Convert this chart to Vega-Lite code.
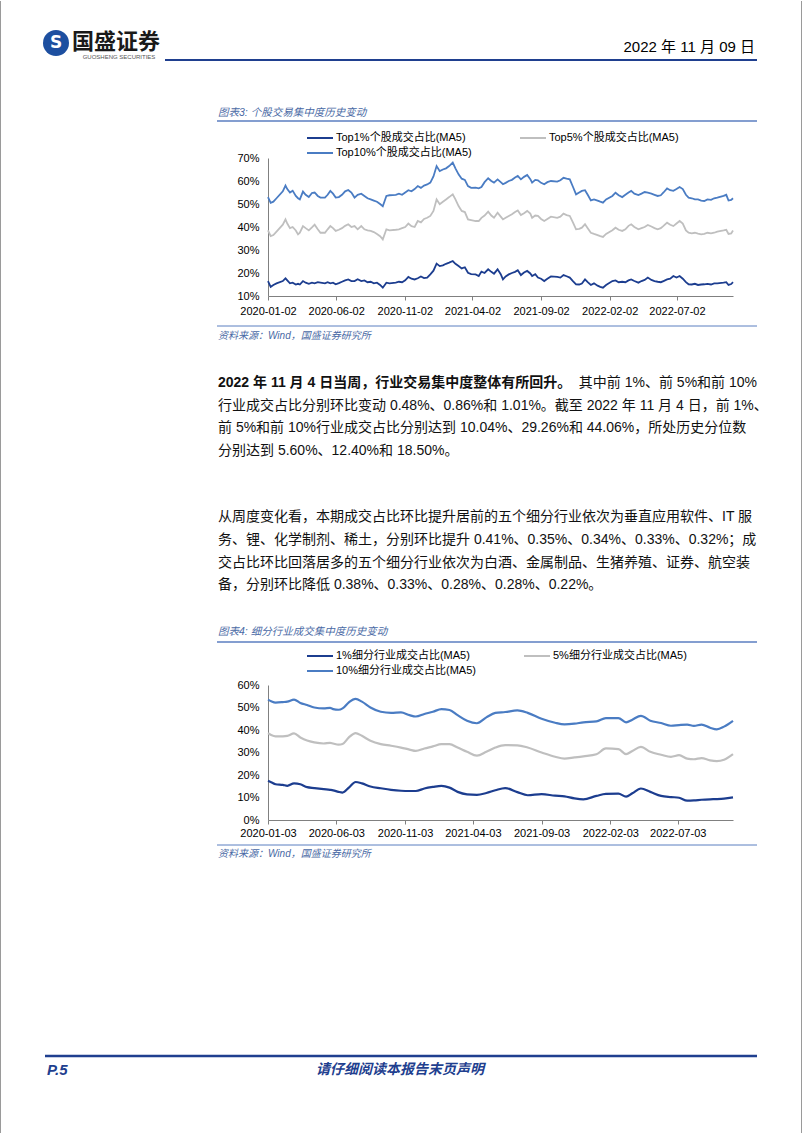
{
"$schema": "https://vega.github.io/schema/vega-lite/v6.json",
"padding": 0,
"background": "white",
"bounds": "flush",
"spacing": 389,
"resolve": {"scale": {"color": "independent"}, "legend": {"color": "independent"}},
"config": {
  "view": {"stroke": null},
  "font": "Liberation Sans, Noto Sans CJK SC",
  "text": {"font": "Liberation Sans, Noto Sans CJK SC"},
  "axis": {"labelFont": "Liberation Sans, Noto Sans CJK SC", "labelFontSize": 11, "labelColor": "#000000", "domainColor": "#808080", "tickColor": "#808080", "grid": false, "title": null},
  "legend": {"labelFont": "Liberation Sans, Noto Sans CJK SC", "labelFontSize": 11, "labelColor": "#000000"}
},
"vconcat": [
{
  "width": 465,
  "height": 138,
  "layer": [
    {"data": {"values": [{}]}, "mark": {"type": "rect", "fill": "white", "opacity": 0}, "encoding": {"x": {"value": -268}, "x2": {"value": 534}, "y": {"value": -157}, "y2": {"value": 976}}},
    {"data": {"values": [{}]}, "mark": {"type": "rule", "stroke": "#9a9a9a", "strokeWidth": 1}, "encoding": {"x": {"value": -267.5}, "y": {"value": -157}, "y2": {"value": 976}}},
    {"data": {"values": [{}]}, "mark": {"type": "rule", "stroke": "#9a9a9a", "strokeWidth": 1}, "encoding": {"x": {"value": 533.5}, "y": {"value": -157}, "y2": {"value": 976}}},
    {"data": {"values": [{}]}, "mark": {"type": "point", "shape": "circle", "filled": true, "color": "#1d4fa0", "size": 676, "opacity": 1}, "encoding": {"x": {"value": -212}, "y": {"value": -115}}},
    {"data": {"values": [{}]}, "mark": {"type": "text", "text": "S", "color": "white", "fontWeight": "bold", "fontSize": 17, "align": "center", "baseline": "middle", "font": "DejaVu Sans"}, "encoding": {"x": {"value": -212}, "y": {"value": -115}}},
    {"data": {"values": [{}]}, "mark": {"type": "text", "text": "国盛证券", "color": "#1a1a1a", "fontWeight": "bold", "fontSize": 22, "align": "left", "baseline": "middle", "font": "Noto Sans CJK SC"}, "encoding": {"x": {"value": -196}, "y": {"value": -116}}},
    {"data": {"values": [{}]}, "mark": {"type": "text", "text": "GUOSHENG SECURITIES", "color": "#555555", "fontSize": 6, "align": "center", "baseline": "middle"}, "encoding": {"x": {"value": -149}, "y": {"value": -101}}},
    {"data": {"values": [{}]}, "mark": {"type": "text", "text": "2022 年 11 月 09 日", "color": "#000000", "fontSize": 15, "align": "right", "baseline": "middle", "font": "Liberation Sans Narrow, Liberation Sans, Noto Sans CJK SC"}, "encoding": {"x": {"value": 487}, "y": {"value": -111}}},
    {"data": {"values": [{}]}, "mark": {"type": "rule", "stroke": "#1f3f8f", "strokeWidth": 2}, "encoding": {"x": {"value": -103}, "x2": {"value": 489}, "y": {"value": -98}}},
    {"data": {"values": [{}]}, "mark": {"type": "text", "text": "图表3: 个股交易集中度历史变动", "color": "#4a6aa5", "fontSize": 10.5, "fontStyle": "italic", "align": "left", "baseline": "middle"}, "encoding": {"x": {"value": -50}, "y": {"value": -45}}},
    {"data": {"values": [{}]}, "mark": {"type": "rule", "stroke": "#5b7ec0", "strokeWidth": 1.5}, "encoding": {"x": {"value": -51}, "x2": {"value": 489}, "y": {"value": -37}}},
    {
      "data": {"values": [
        {"d":"2020-01-02","a":16.5,"b":38.5,"c":53.0},
        {"d":"2020-01-08","a":14.0,"b":36.0,"c":50.5},
        {"d":"2020-01-14","a":14.8,"b":36.5,"c":51.0},
        {"d":"2020-01-21","a":15.5,"b":38.0,"c":52.5},
        {"d":"2020-02-04","a":16.5,"b":41.0,"c":55.5},
        {"d":"2020-02-10","a":17.7,"b":43.3,"c":58.0},
        {"d":"2020-02-14","a":16.8,"b":41.5,"c":56.5},
        {"d":"2020-02-20","a":15.5,"b":39.5,"c":55.0},
        {"d":"2020-02-26","a":15.8,"b":40.0,"c":55.8},
        {"d":"2020-03-04","a":15.0,"b":38.5,"c":53.5},
        {"d":"2020-03-09","a":15.3,"b":36.8,"c":52.5},
        {"d":"2020-03-13","a":15.0,"b":37.5,"c":52.0},
        {"d":"2020-03-20","a":16.5,"b":40.4,"c":55.4},
        {"d":"2020-03-26","a":15.8,"b":39.5,"c":54.0},
        {"d":"2020-04-02","a":15.3,"b":38.5,"c":53.0},
        {"d":"2020-04-09","a":15.8,"b":39.8,"c":54.8},
        {"d":"2020-04-15","a":15.5,"b":41.0,"c":55.0},
        {"d":"2020-04-22","a":16.0,"b":39.0,"c":53.5},
        {"d":"2020-04-28","a":15.8,"b":37.5,"c":52.8},
        {"d":"2020-05-08","a":15.5,"b":37.5,"c":52.8},
        {"d":"2020-05-14","a":16.0,"b":39.0,"c":54.0},
        {"d":"2020-05-20","a":15.5,"b":40.4,"c":55.7},
        {"d":"2020-05-26","a":15.8,"b":39.5,"c":54.5},
        {"d":"2020-06-01","a":15.1,"b":38.3,"c":52.8},
        {"d":"2020-06-08","a":15.6,"b":38.8,"c":53.0},
        {"d":"2020-06-15","a":16.2,"b":39.5,"c":54.0},
        {"d":"2020-06-22","a":16.8,"b":40.5,"c":55.5},
        {"d":"2020-06-29","a":17.2,"b":41.2,"c":56.1},
        {"d":"2020-07-06","a":16.5,"b":40.0,"c":55.0},
        {"d":"2020-07-13","a":16.5,"b":40.4,"c":52.8},
        {"d":"2020-07-20","a":17.3,"b":39.0,"c":54.0},
        {"d":"2020-07-28","a":16.5,"b":40.4,"c":54.5},
        {"d":"2020-08-04","a":16.8,"b":39.0,"c":53.5},
        {"d":"2020-08-11","a":16.0,"b":38.5,"c":52.5},
        {"d":"2020-08-18","a":16.2,"b":38.3,"c":52.0},
        {"d":"2020-08-25","a":15.5,"b":37.8,"c":51.5},
        {"d":"2020-09-01","a":15.8,"b":37.0,"c":51.0},
        {"d":"2020-09-08","a":14.8,"b":36.0,"c":50.0},
        {"d":"2020-09-14","a":13.6,"b":34.6,"c":49.0},
        {"d":"2020-09-22","a":15.8,"b":39.0,"c":53.5},
        {"d":"2020-09-29","a":15.5,"b":38.5,"c":53.8},
        {"d":"2020-10-13","a":15.8,"b":38.8,"c":54.0},
        {"d":"2020-10-20","a":16.2,"b":39.0,"c":54.5},
        {"d":"2020-10-27","a":16.0,"b":39.5,"c":54.0},
        {"d":"2020-11-03","a":16.8,"b":40.0,"c":55.0},
        {"d":"2020-11-10","a":18.3,"b":41.5,"c":56.0},
        {"d":"2020-11-17","a":17.5,"b":40.4,"c":55.5},
        {"d":"2020-11-24","a":17.2,"b":40.0,"c":56.5},
        {"d":"2020-12-01","a":17.7,"b":42.6,"c":57.8},
        {"d":"2020-12-08","a":18.5,"b":42.0,"c":57.0},
        {"d":"2020-12-15","a":17.8,"b":43.5,"c":58.0},
        {"d":"2020-12-22","a":18.0,"b":44.0,"c":58.5},
        {"d":"2020-12-29","a":19.4,"b":44.8,"c":59.3},
        {"d":"2021-01-05","a":21.0,"b":47.0,"c":62.0},
        {"d":"2021-01-12","a":24.1,"b":52.0,"c":66.5},
        {"d":"2021-01-19","a":23.0,"b":49.9,"c":64.3},
        {"d":"2021-01-26","a":23.3,"b":51.0,"c":65.0},
        {"d":"2021-02-02","a":24.0,"b":52.0,"c":65.5},
        {"d":"2021-02-09","a":24.5,"b":53.0,"c":66.5},
        {"d":"2021-02-17","a":25.2,"b":54.2,"c":68.0},
        {"d":"2021-02-23","a":24.0,"b":52.0,"c":65.5},
        {"d":"2021-03-02","a":23.0,"b":49.1,"c":62.9},
        {"d":"2021-03-09","a":22.0,"b":47.0,"c":61.0},
        {"d":"2021-03-16","a":22.5,"b":46.5,"c":60.5},
        {"d":"2021-03-23","a":20.1,"b":43.3,"c":57.8},
        {"d":"2021-03-30","a":19.5,"b":43.0,"c":57.0},
        {"d":"2021-04-09","a":19.4,"b":42.6,"c":57.1},
        {"d":"2021-04-16","a":18.7,"b":42.6,"c":56.8},
        {"d":"2021-04-22","a":20.6,"b":44.0,"c":57.4},
        {"d":"2021-04-29","a":20.0,"b":45.0,"c":59.5},
        {"d":"2021-05-07","a":21.6,"b":46.7,"c":61.2},
        {"d":"2021-05-14","a":20.5,"b":45.0,"c":60.0},
        {"d":"2021-05-20","a":19.7,"b":44.0,"c":59.3},
        {"d":"2021-05-28","a":21.6,"b":46.2,"c":60.7},
        {"d":"2021-06-04","a":19.5,"b":44.5,"c":59.5},
        {"d":"2021-06-09","a":17.2,"b":43.3,"c":58.6},
        {"d":"2021-06-15","a":18.5,"b":44.0,"c":59.2},
        {"d":"2021-06-22","a":19.4,"b":44.8,"c":60.0},
        {"d":"2021-06-29","a":20.0,"b":45.5,"c":60.5},
        {"d":"2021-07-06","a":20.5,"b":46.5,"c":61.5},
        {"d":"2021-07-12","a":21.2,"b":47.2,"c":62.2},
        {"d":"2021-07-19","a":19.1,"b":45.2,"c":60.7},
        {"d":"2021-07-26","a":20.2,"b":46.0,"c":61.8},
        {"d":"2021-08-02","a":20.9,"b":47.0,"c":62.6},
        {"d":"2021-08-09","a":19.8,"b":45.8,"c":60.8},
        {"d":"2021-08-13","a":18.7,"b":44.0,"c":59.3},
        {"d":"2021-08-20","a":19.5,"b":45.0,"c":60.5},
        {"d":"2021-08-26","a":18.0,"b":44.8,"c":60.3},
        {"d":"2021-09-02","a":17.5,"b":43.5,"c":59.2},
        {"d":"2021-09-09","a":16.5,"b":42.6,"c":58.6},
        {"d":"2021-09-16","a":17.5,"b":43.5,"c":59.5},
        {"d":"2021-09-24","a":18.5,"b":44.5,"c":60.0},
        {"d":"2021-10-08","a":18.3,"b":44.0,"c":59.7},
        {"d":"2021-10-15","a":18.0,"b":44.5,"c":60.3},
        {"d":"2021-10-22","a":19.1,"b":45.8,"c":61.4},
        {"d":"2021-10-29","a":18.6,"b":45.2,"c":61.0},
        {"d":"2021-11-05","a":18.0,"b":44.8,"c":60.7},
        {"d":"2021-11-12","a":16.5,"b":42.0,"c":57.5},
        {"d":"2021-11-19","a":15.1,"b":39.0,"c":54.2},
        {"d":"2021-11-26","a":15.0,"b":39.2,"c":55.0},
        {"d":"2021-12-02","a":15.4,"b":39.7,"c":55.7},
        {"d":"2021-12-09","a":17.2,"b":41.2,"c":56.0},
        {"d":"2021-12-15","a":16.0,"b":39.5,"c":54.0},
        {"d":"2021-12-22","a":14.8,"b":37.5,"c":51.6},
        {"d":"2021-12-29","a":15.5,"b":37.0,"c":52.0},
        {"d":"2022-01-06","a":14.5,"b":36.5,"c":51.5},
        {"d":"2022-01-12","a":14.0,"b":36.0,"c":51.0},
        {"d":"2022-01-18","a":13.6,"b":35.7,"c":50.6},
        {"d":"2022-01-25","a":14.8,"b":37.0,"c":52.0},
        {"d":"2022-02-08","a":16.5,"b":38.6,"c":53.5},
        {"d":"2022-02-15","a":16.8,"b":39.7,"c":54.9},
        {"d":"2022-02-22","a":16.0,"b":38.8,"c":53.8},
        {"d":"2022-03-02","a":16.2,"b":38.3,"c":53.0},
        {"d":"2022-03-09","a":16.0,"b":39.0,"c":54.0},
        {"d":"2022-03-16","a":16.8,"b":40.5,"c":55.0},
        {"d":"2022-03-22","a":17.2,"b":41.2,"c":55.7},
        {"d":"2022-03-29","a":16.5,"b":40.0,"c":54.5},
        {"d":"2022-04-07","a":15.8,"b":39.0,"c":53.9},
        {"d":"2022-04-14","a":16.5,"b":39.5,"c":54.5},
        {"d":"2022-04-21","a":17.0,"b":40.0,"c":55.2},
        {"d":"2022-04-28","a":18.0,"b":40.9,"c":54.9},
        {"d":"2022-05-06","a":17.0,"b":40.2,"c":54.5},
        {"d":"2022-05-13","a":16.5,"b":39.5,"c":54.0},
        {"d":"2022-05-20","a":16.2,"b":39.0,"c":53.5},
        {"d":"2022-05-27","a":16.0,"b":39.5,"c":53.8},
        {"d":"2022-06-02","a":16.5,"b":40.5,"c":55.0},
        {"d":"2022-06-10","a":17.2,"b":41.9,"c":56.8},
        {"d":"2022-06-17","a":17.5,"b":41.0,"c":56.0},
        {"d":"2022-06-24","a":18.7,"b":40.4,"c":55.7},
        {"d":"2022-07-01","a":18.0,"b":41.5,"c":56.5},
        {"d":"2022-07-08","a":18.7,"b":42.6,"c":57.4},
        {"d":"2022-07-15","a":17.5,"b":41.5,"c":56.5},
        {"d":"2022-07-22","a":16.0,"b":38.5,"c":54.0},
        {"d":"2022-07-28","a":15.1,"b":37.5,"c":52.8},
        {"d":"2022-08-04","a":15.0,"b":37.2,"c":52.5},
        {"d":"2022-08-11","a":15.3,"b":37.5,"c":52.0},
        {"d":"2022-08-18","a":14.8,"b":37.1,"c":52.0},
        {"d":"2022-08-25","a":15.0,"b":36.8,"c":51.5},
        {"d":"2022-09-01","a":15.1,"b":37.0,"c":51.3},
        {"d":"2022-09-08","a":15.3,"b":37.5,"c":52.0},
        {"d":"2022-09-16","a":15.0,"b":37.2,"c":51.8},
        {"d":"2022-09-23","a":15.5,"b":37.5,"c":52.5},
        {"d":"2022-09-30","a":15.5,"b":38.0,"c":52.8},
        {"d":"2022-10-14","a":15.8,"b":38.5,"c":53.5},
        {"d":"2022-10-20","a":16.0,"b":38.8,"c":54.0},
        {"d":"2022-10-25","a":14.8,"b":37.0,"c":51.5},
        {"d":"2022-10-31","a":15.2,"b":37.2,"c":51.8},
        {"d":"2022-11-04","a":16.0,"b":38.5,"c":52.5}
      ], "format": {"parse": {"d": "date:'%Y-%m-%d'"}}},
      "transform": [{"fold": ["a", "b", "c"], "as": ["k", "v"]}],
      "mark": {"type": "line", "strokeWidth": 1.8},
      "encoding": {
        "x": {"field": "d", "type": "temporal",
          "scale": {"domain": [{"year": 2020, "month": 1, "date": 2}, {"year": 2022, "month": 11, "date": 4}], "nice": false},
          "axis": {"values": [{"year": 2020, "month": 1, "date": 2}, {"year": 2020, "month": 6, "date": 2}, {"year": 2020, "month": 11, "date": 2}, {"year": 2021, "month": 4, "date": 2}, {"year": 2021, "month": 9, "date": 2}, {"year": 2022, "month": 2, "date": 2}, {"year": 2022, "month": 7, "date": 2}],
            "format": "%Y-%m-%d", "labelFlush": false, "labelOverlap": false, "tickSize": 4, "labelPadding": 5}},
        "y": {"field": "v", "type": "quantitative",
          "scale": {"domain": [10, 70], "nice": false, "zero": false},
          "axis": {"values": [10, 20, 30, 40, 50, 60, 70], "labelExpr": "datum.value + '%'", "ticks": false, "tickSize": 0, "labelPadding": 9}},
        "color": {"field": "k", "type": "nominal",
          "scale": {"domain": ["a", "c", "b"], "range": ["#1c3d8f", "#4a7cc3", "#bfbfbf"]},
          "legend": {"title": null, "orient": "none", "legendX": 38, "legendY": -27.5, "columns": 2, "columnPadding": 47, "rowPadding": 0, "clipHeight": 15, "symbolType": "stroke", "symbolSize": 676, "symbolStrokeWidth": 2, "labelOffset": 2, "labelLimit": 300,
            "labelExpr": "datum.label == 'a' ? 'Top1%个股成交占比(MA5)' : datum.label == 'b' ? 'Top5%个股成交占比(MA5)' : 'Top10%个股成交占比(MA5)'"}}
      }
    },
    {"data": {"values": [{}]}, "mark": {"type": "rule", "stroke": "#5b7ec0", "strokeWidth": 1}, "encoding": {"x": {"value": -51}, "x2": {"value": 489}, "y": {"value": 168}}},
    {"data": {"values": [{}]}, "mark": {"type": "text", "text": "资料来源：Wind，国盛证券研究所", "color": "#4a6aa5", "fontSize": 10, "fontStyle": "italic", "align": "left", "baseline": "middle"}, "encoding": {"x": {"value": -50}, "y": {"value": 178}}},
    {"data": {"values": [{}]}, "mark": {"type": "text", "text": "2022 年 11 月 4 日当周，行业交易集中度整体有所回升。", "color": "#111111", "fontSize": 14, "fontWeight": "bold", "align": "left", "baseline": "middle"}, "encoding": {"x": {"value": -50}, "y": {"value": 225}}},
    {"data": {"values": [{}]}, "mark": {"type": "text", "text": "其中前 1%、前 5%和前 10%", "color": "#111111", "fontSize": 14, "align": "right", "baseline": "middle"}, "encoding": {"x": {"value": 489}, "y": {"value": 225}}},
    {"data": {"values": [{}]}, "mark": {"type": "text", "text": ["行业成交占比分别环比变动 0.48%、0.86%和 1.01%。截至 2022 年 11 月 4 日，前 1%、", "前 5%和前 10%行业成交占比分别达到 10.04%、29.26%和 44.06%，所处历史分位数", "分别达到 5.60%、12.40%和 18.50%。"], "color": "#111111", "fontSize": 14, "lineHeight": 22.7, "align": "left", "baseline": "top"}, "encoding": {"x": {"value": -50}, "y": {"value": 240.8}}},
    {"data": {"values": [{}]}, "mark": {"type": "text", "text": ["从周度变化看，本期成交占比环比提升居前的五个细分行业依次为垂直应用软件、IT 服", "务、锂、化学制剂、稀土，分别环比提升 0.41%、0.35%、0.34%、0.33%、0.32%；成", "交占比环比回落居多的五个细分行业依次为白酒、金属制品、生猪养殖、证券、航空装", "备，分别环比降低 0.38%、0.33%、0.28%、0.28%、0.22%。"], "color": "#111111", "fontSize": 14, "lineHeight": 22.7, "align": "left", "baseline": "top"}, "encoding": {"x": {"value": -50}, "y": {"value": 352.3}}}
  ]
},
{
  "width": 465,
  "height": 135,
  "layer": [
    {"data": {"values": [{}]}, "mark": {"type": "text", "text": "图表4: 细分行业成交集中度历史变动", "color": "#4a6aa5", "fontSize": 10.5, "fontStyle": "italic", "align": "left", "baseline": "middle"}, "encoding": {"x": {"value": -50}, "y": {"value": -53}}},
    {"data": {"values": [{}]}, "mark": {"type": "rule", "stroke": "#5b7ec0", "strokeWidth": 1.5}, "encoding": {"x": {"value": -51}, "x2": {"value": 489}, "y": {"value": -43}}},
    {
      "data": {"values": [
        {"d":"2020-01-03","a":17.4,"b":38.6,"c":53.5},
        {"d":"2020-01-10","a":16.8,"b":37.8,"c":52.8},
        {"d":"2020-01-20","a":15.9,"b":37.2,"c":52.2},
        {"d":"2020-02-05","a":15.6,"b":37.2,"c":52.4},
        {"d":"2020-02-15","a":15.2,"b":37.4,"c":52.6},
        {"d":"2020-03-01","a":16.3,"b":38.5,"c":53.5},
        {"d":"2020-03-15","a":15.9,"b":36.7,"c":52.0},
        {"d":"2020-03-30","a":14.6,"b":35.3,"c":51.1},
        {"d":"2020-04-15","a":14.2,"b":34.5,"c":50.0},
        {"d":"2020-05-06","a":13.7,"b":34.0,"c":49.6},
        {"d":"2020-05-20","a":13.4,"b":34.3,"c":49.8},
        {"d":"2020-05-27","a":13.2,"b":34.0,"c":49.3},
        {"d":"2020-06-08","a":12.5,"b":33.5,"c":49.0},
        {"d":"2020-06-17","a":12.2,"b":33.8,"c":49.6},
        {"d":"2020-07-01","a":14.4,"b":36.7,"c":52.3},
        {"d":"2020-07-16","a":16.9,"b":38.6,"c":53.8},
        {"d":"2020-07-30","a":16.3,"b":37.4,"c":52.6},
        {"d":"2020-08-18","a":14.9,"b":35.2,"c":50.0},
        {"d":"2020-09-10","a":14.1,"b":33.7,"c":48.1},
        {"d":"2020-10-03","a":13.4,"b":33.0,"c":47.6},
        {"d":"2020-10-25","a":13.0,"b":32.2,"c":47.8},
        {"d":"2020-11-13","a":12.9,"b":31.3,"c":46.6},
        {"d":"2020-11-27","a":12.9,"b":30.7,"c":46.0},
        {"d":"2020-12-16","a":14.0,"b":31.8,"c":47.1},
        {"d":"2021-01-04","a":14.7,"b":32.7,"c":48.1},
        {"d":"2021-01-23","a":15.2,"b":33.7,"c":49.3},
        {"d":"2021-02-10","a":14.4,"b":33.7,"c":48.9},
        {"d":"2021-02-28","a":12.5,"b":32.2,"c":46.6},
        {"d":"2021-03-21","a":11.4,"b":30.3,"c":44.1},
        {"d":"2021-04-12","a":11.2,"b":28.6,"c":43.0},
        {"d":"2021-05-03","a":12.0,"b":30.3,"c":45.6},
        {"d":"2021-05-23","a":13.2,"b":32.2,"c":47.6},
        {"d":"2021-06-14","a":14.2,"b":33.3,"c":48.0},
        {"d":"2021-07-11","a":12.4,"b":33.2,"c":48.7},
        {"d":"2021-08-03","a":11.0,"b":32.2,"c":47.6},
        {"d":"2021-09-03","a":11.5,"b":30.0,"c":45.0},
        {"d":"2021-10-03","a":10.8,"b":28.1,"c":43.2},
        {"d":"2021-10-24","a":10.5,"b":27.3,"c":42.5},
        {"d":"2021-11-15","a":9.6,"b":27.8,"c":42.8},
        {"d":"2021-12-05","a":9.2,"b":28.3,"c":43.4},
        {"d":"2022-01-03","a":10.7,"b":29.2,"c":43.8},
        {"d":"2022-01-24","a":11.6,"b":31.8,"c":45.3},
        {"d":"2022-02-21","a":11.7,"b":31.5,"c":45.3},
        {"d":"2022-03-10","a":10.4,"b":29.3,"c":43.4},
        {"d":"2022-03-24","a":11.9,"b":30.7,"c":44.6},
        {"d":"2022-04-12","a":14.0,"b":32.5,"c":46.3},
        {"d":"2022-05-03","a":12.5,"b":30.3,"c":44.1},
        {"d":"2022-05-27","a":10.7,"b":29.0,"c":43.1},
        {"d":"2022-06-18","a":10.2,"b":28.1,"c":41.9},
        {"d":"2022-07-06","a":9.9,"b":28.8,"c":42.2},
        {"d":"2022-07-24","a":8.6,"b":27.3,"c":42.4},
        {"d":"2022-08-08","a":8.7,"b":27.0,"c":41.8},
        {"d":"2022-08-25","a":9.0,"b":27.5,"c":42.4},
        {"d":"2022-09-13","a":9.2,"b":26.5,"c":41.0},
        {"d":"2022-09-28","a":9.3,"b":26.2,"c":40.3},
        {"d":"2022-10-14","a":9.5,"b":26.8,"c":41.5},
        {"d":"2022-11-03","a":10.04,"b":29.26,"c":44.06}
      ], "format": {"parse": {"d": "date:'%Y-%m-%d'"}}},
      "transform": [{"fold": ["a", "b", "c"], "as": ["k", "v"]}],
      "mark": {"type": "line", "strokeWidth": 2.2, "interpolate": "monotone"},
      "encoding": {
        "x": {"field": "d", "type": "temporal",
          "scale": {"domain": [{"year": 2020, "month": 1, "date": 3}, {"year": 2022, "month": 11, "date": 3}], "nice": false},
          "axis": {"values": [{"year": 2020, "month": 1, "date": 3}, {"year": 2020, "month": 6, "date": 3}, {"year": 2020, "month": 11, "date": 3}, {"year": 2021, "month": 4, "date": 3}, {"year": 2021, "month": 9, "date": 3}, {"year": 2022, "month": 2, "date": 3}, {"year": 2022, "month": 7, "date": 3}],
            "format": "%Y-%m-%d", "labelFlush": false, "labelOverlap": false, "tickSize": 4, "labelPadding": 3}},
        "y": {"field": "v", "type": "quantitative",
          "scale": {"domain": [0, 60], "nice": false},
          "axis": {"values": [0, 10, 20, 30, 40, 50, 60], "labelExpr": "datum.value + '%'", "ticks": false, "tickSize": 0, "labelPadding": 9}},
        "color": {"field": "k", "type": "nominal",
          "scale": {"domain": ["a", "c", "b"], "range": ["#1c3d8f", "#4a7cc3", "#bfbfbf"]},
          "legend": {"title": null, "orient": "none", "legendX": 38, "legendY": -36.5, "columns": 2, "columnPadding": 47, "rowPadding": 0, "clipHeight": 15, "symbolType": "stroke", "symbolSize": 676, "symbolStrokeWidth": 2, "labelOffset": 2, "labelLimit": 300,
            "labelExpr": "datum.label == 'a' ? '1%细分行业成交占比(MA5)' : datum.label == 'b' ? '5%细分行业成交占比(MA5)' : '10%细分行业成交占比(MA5)'"}}
      }
    },
    {"data": {"values": [{}]}, "mark": {"type": "rule", "stroke": "#5b7ec0", "strokeWidth": 1}, "encoding": {"x": {"value": -51}, "x2": {"value": 489}, "y": {"value": 160}}},
    {"data": {"values": [{}]}, "mark": {"type": "text", "text": "资料来源：Wind，国盛证券研究所", "color": "#4a6aa5", "fontSize": 10, "fontStyle": "italic", "align": "left", "baseline": "middle"}, "encoding": {"x": {"value": -50}, "y": {"value": 169}}},
    {"data": {"values": [{}]}, "mark": {"type": "rule", "stroke": "#1f3f8f", "strokeWidth": 2.5}, "encoding": {"x": {"value": -223}, "x2": {"value": 489}, "y": {"value": 371}}},
    {"data": {"values": [{}]}, "mark": {"type": "text", "text": "P.5", "color": "#1f3f8f", "fontSize": 15, "fontWeight": "bold", "fontStyle": "italic", "align": "left", "baseline": "middle"}, "encoding": {"x": {"value": -221}, "y": {"value": 385}}},
    {"data": {"values": [{}]}, "mark": {"type": "text", "text": "请仔细阅读本报告末页声明", "color": "#1f3f8f", "fontSize": 14, "fontWeight": "bold", "fontStyle": "italic", "align": "center", "baseline": "middle"}, "encoding": {"x": {"value": 132}, "y": {"value": 385}}}
  ]
}
]
}
